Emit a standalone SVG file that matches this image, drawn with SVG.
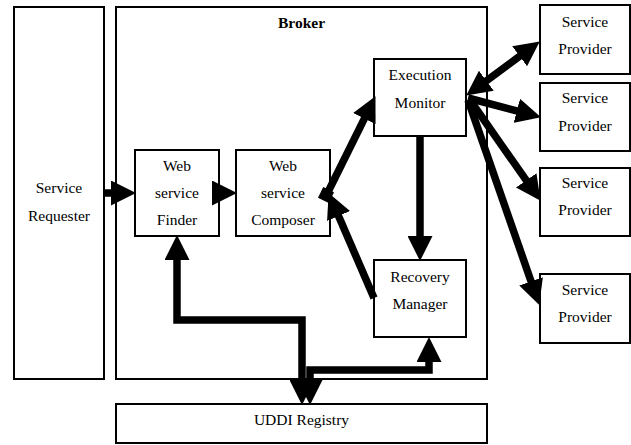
<svg xmlns="http://www.w3.org/2000/svg" width="631" height="445" viewBox="0 0 631 445">
<defs>
<marker id="ah" markerUnits="userSpaceOnUse" markerWidth="25" markerHeight="25" refX="12" refY="12.5" orient="auto-start-reverse" viewBox="0 0 25 25">
<path d="M0,0 L25,12.5 L0,25 z" fill="#000" stroke="none"/>
</marker>
</defs>
<rect width="631" height="445" fill="#fff"/>
<g id="requester"><rect fill="#fff" stroke="#000" stroke-width="2" x="14" y="7" width="90" height="372"/><text font-family="Liberation Serif" font-size="15.5" text-anchor="middle" x="59" y="193">Service</text><text font-family="Liberation Serif" font-size="15.5" text-anchor="middle" x="59" y="221">Requester</text></g>
<g id="broker"><rect fill="#fff" stroke="#000" stroke-width="2" x="116" y="7" width="371" height="372"/><text font-family="Liberation Serif" font-size="15.5" text-anchor="middle" x="301.5" y="28" font-weight="bold">Broker</text></g>
<g id="finder"><rect fill="#fff" stroke="#000" stroke-width="2" x="135" y="150" width="84" height="86"/><text font-family="Liberation Serif" font-size="15.5" text-anchor="middle" x="177" y="171">Web</text><text font-family="Liberation Serif" font-size="15.5" text-anchor="middle" x="177" y="198">service</text><text font-family="Liberation Serif" font-size="15.5" text-anchor="middle" x="177" y="225">Finder</text></g>
<g id="composer"><rect fill="#fff" stroke="#000" stroke-width="2" x="236" y="150" width="94" height="86"/><text font-family="Liberation Serif" font-size="15.5" text-anchor="middle" x="283" y="171">Web</text><text font-family="Liberation Serif" font-size="15.5" text-anchor="middle" x="283" y="198">service</text><text font-family="Liberation Serif" font-size="15.5" text-anchor="middle" x="283" y="225">Composer</text></g>
<g id="monitor"><rect fill="#fff" stroke="#000" stroke-width="2" x="374" y="59" width="92" height="77"/><text font-family="Liberation Serif" font-size="15.5" text-anchor="middle" x="420" y="80">Execution</text><text font-family="Liberation Serif" font-size="15.5" text-anchor="middle" x="420" y="108">Monitor</text></g>
<g id="recovery"><rect fill="#fff" stroke="#000" stroke-width="2" x="374" y="260" width="92" height="77"/><text font-family="Liberation Serif" font-size="15.5" text-anchor="middle" x="420" y="282">Recovery</text><text font-family="Liberation Serif" font-size="15.5" text-anchor="middle" x="420" y="309">Manager</text></g>
<g id="sp1"><rect fill="#fff" stroke="#000" stroke-width="2" x="540" y="5" width="90" height="69"/><text font-family="Liberation Serif" font-size="15.5" text-anchor="middle" x="585" y="27">Service</text><text font-family="Liberation Serif" font-size="15.5" text-anchor="middle" x="585" y="54">Provider</text></g>
<g id="sp2"><rect fill="#fff" stroke="#000" stroke-width="2" x="540" y="83" width="90" height="68"/><text font-family="Liberation Serif" font-size="15.5" text-anchor="middle" x="585" y="103">Service</text><text font-family="Liberation Serif" font-size="15.5" text-anchor="middle" x="585" y="131">Provider</text></g>
<g id="sp3"><rect fill="#fff" stroke="#000" stroke-width="2" x="540" y="168" width="90" height="68"/><text font-family="Liberation Serif" font-size="15.5" text-anchor="middle" x="585" y="188">Service</text><text font-family="Liberation Serif" font-size="15.5" text-anchor="middle" x="585" y="215">Provider</text></g>
<g id="sp4"><rect fill="#fff" stroke="#000" stroke-width="2" x="540" y="274" width="90" height="69"/><text font-family="Liberation Serif" font-size="15.5" text-anchor="middle" x="585" y="295">Service</text><text font-family="Liberation Serif" font-size="15.5" text-anchor="middle" x="585" y="322">Provider</text></g>
<g id="uddi"><rect fill="#fff" stroke="#000" stroke-width="2" x="116" y="404" width="371" height="39"/><text font-family="Liberation Serif" font-size="15.5" text-anchor="middle" x="301.5" y="425">UDDI Registry</text></g>
<g id="connectors" fill="none" stroke="#000" stroke-width="7.5">
<line x1="104" y1="193" x2="123" y2="193" marker-end="url(#ah)"/>
<line x1="219" y1="193" x2="224" y2="193" marker-end="url(#ah)"/>
<rect x="-6" y="-6" width="12" height="12" fill="#000" stroke="none" transform="translate(326,195) rotate(26)"/>
<line x1="328" y1="192" x2="369.7" y2="107.8" marker-end="url(#ah)"/>
<line x1="374" y1="298" x2="333.8" y2="205" marker-end="url(#ah)"/>
<line x1="420" y1="136" x2="420" y2="248" marker-end="url(#ah)"/>
<line x1="476.7" y1="87.9" x2="529.3" y2="49.1" marker-start="url(#ah)" marker-end="url(#ah)"/>
<line x1="468" y1="98" x2="528.4" y2="113.9" marker-end="url(#ah)"/>
<line x1="470" y1="100" x2="533.1" y2="190.2" marker-end="url(#ah)"/>
<line x1="468" y1="100" x2="535" y2="292.7" marker-end="url(#ah)"/>
<path d="M177,248 L177,320 L302,320 L302,392" marker-start="url(#ah)" marker-end="url(#ah)"/>
<path d="M310,392 L310,370 L429,370 L429,350" marker-start="url(#ah)" marker-end="url(#ah)"/>
</g>
</svg>
